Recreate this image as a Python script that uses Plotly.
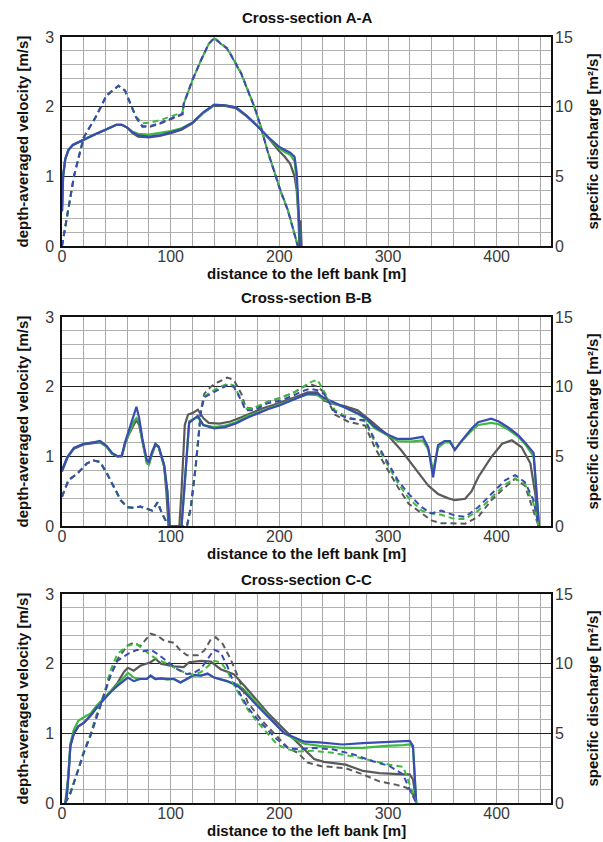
import plotly.graph_objects as go

# ---------------- DATA ----------------
# Panel A (Cross-section A-A): velocity [m/s] (solid) and specific discharge [m2/s] (dashed)
a_v_x = [0, 1, 3, 6, 10, 20, 30, 40, 50, 55, 60, 65, 70, 80, 90, 100, 110, 120, 130, 140, 150, 160, 170, 180, 190, 200, 205, 210, 214, 216, 217.5, 219]
a_v_blue = [0.5, 1.0, 1.25, 1.38, 1.45, 1.53, 1.6, 1.67, 1.74, 1.74, 1.70, 1.63, 1.59, 1.57, 1.59, 1.63, 1.68, 1.77, 1.92, 2.03, 2.02, 1.99, 1.87, 1.72, 1.56, 1.42, 1.38, 1.34, 1.28, 1.05, 0.6, 0]
a_v_green = [0.5, 1.0, 1.25, 1.38, 1.45, 1.53, 1.6, 1.67, 1.74, 1.74, 1.70, 1.64, 1.61, 1.60, 1.62, 1.65, 1.69, 1.77, 1.91, 2.02, 2.02, 1.99, 1.87, 1.72, 1.55, 1.40, 1.35, 1.31, 1.22, 0.9, 0.5, 0]
a_v_gray_x = [0, 1, 3, 6, 10, 20, 30, 40, 50, 55, 60, 65, 70, 80, 90, 100, 110, 120, 130, 140, 150, 160, 170, 180, 190, 200, 205, 210, 214, 216, 217.5, 218.5, 219.5, 220.5]
a_v_gray = [0.5, 1.0, 1.25, 1.38, 1.45, 1.53, 1.6, 1.67, 1.74, 1.74, 1.70, 1.62, 1.57, 1.56, 1.58, 1.62, 1.67, 1.76, 1.91, 2.02, 2.01, 1.98, 1.86, 1.72, 1.55, 1.36, 1.28, 1.18, 1.0, 0.8, 0.45, 0.0, 0.37, 0]

a_q_x = [0, 2, 5, 11, 20, 31, 41, 52, 58, 63, 68, 74, 81, 91, 103, 111, 112, 120, 128, 135, 140, 146, 152, 158, 165, 171, 177, 183, 189, 195, 201, 208, 212, 215, 217]
a_q_blue = [0, 0.9, 2.3, 5.0, 7.8, 9.25, 10.8, 11.5, 11.15, 10.2, 9.25, 8.6, 8.6, 8.85, 9.25, 9.5, 10.2, 11.9, 13.35, 14.5, 14.9, 14.5, 14.15, 13.35, 12.35, 11.15, 10.0, 8.55, 6.85, 5.45, 4.0, 2.55, 1.35, 0.4, 0]
a_q_green = [0, 0.9, 2.3, 5.0, 7.8, 9.25, 10.8, 11.5, 11.15, 10.2, 9.3, 8.8, 8.85, 9.05, 9.4, 9.6, 10.2, 11.9, 13.35, 14.5, 14.9, 14.5, 14.15, 13.35, 12.35, 11.15, 10.0, 8.55, 6.85, 5.45, 4.0, 2.55, 1.35, 0.4, 0]
a_q_gray = [0, 0.9, 2.3, 5.0, 7.8, 9.25, 10.8, 11.5, 11.15, 10.2, 9.25, 8.55, 8.55, 8.8, 9.2, 9.45, 10.2, 11.9, 13.35, 14.5, 14.95, 14.6, 14.2, 13.4, 12.4, 11.2, 10.0, 8.55, 6.85, 5.4, 3.95, 2.5, 1.3, 0.4, 0]

# Panel B (Cross-section B-B)
b_v_x = [0, 5, 11, 20, 29, 35, 41, 46, 51, 55, 58, 61, 66, 68.5, 71, 74, 78, 80, 83, 86, 89, 94, 97, 99, 110, 113, 117, 120, 125, 130, 140, 150, 160, 170, 180, 190, 200, 210, 220, 226, 235, 241, 251, 260, 272, 280, 288, 300, 309, 321, 332, 337, 341.5, 346, 352, 357, 361.5, 368, 377, 383, 390, 395, 402, 411, 420, 426, 434, 437, 439]
b_v_blue = [0.8, 0.99, 1.12, 1.18, 1.2, 1.22, 1.15, 1.05, 1.0, 1.01, 1.2, 1.35, 1.62, 1.71, 1.55, 1.25, 0.95, 0.92, 1.07, 1.18, 1.14, 0.88, 0.5, 0, 0, 0.6, 1.48, 1.52, 1.58, 1.45, 1.4, 1.42, 1.47, 1.55, 1.62, 1.68, 1.73, 1.79, 1.86, 1.90, 1.90, 1.84, 1.77, 1.71, 1.62, 1.55, 1.42, 1.31, 1.25, 1.25, 1.28, 1.13, 0.7, 1.16, 1.22, 1.22, 1.09, 1.23, 1.4, 1.49, 1.52, 1.54, 1.5, 1.41, 1.3, 1.2, 1.05, 0.45, 0]
b_v_green = [0.8, 0.99, 1.12, 1.18, 1.2, 1.21, 1.14, 1.04, 1.0, 1.0, 1.18, 1.3, 1.5, 1.55, 1.5, 1.22, 0.9, 0.88, 1.05, 1.17, 1.13, 0.86, 0.48, 0, 0, 0.6, 1.5, 1.53, 1.56, 1.45, 1.42, 1.44, 1.49, 1.57, 1.63, 1.69, 1.74, 1.8, 1.86, 1.89, 1.88, 1.82, 1.76, 1.70, 1.61, 1.53, 1.40, 1.29, 1.22, 1.21, 1.23, 1.1, 0.8, 1.12, 1.2, 1.2, 1.1, 1.22, 1.37, 1.45, 1.47, 1.48, 1.46, 1.38, 1.28, 1.18, 1.0, 0.4, 0]
b_v_gray_x = [0, 5, 11, 20, 29, 35, 41, 46, 51, 55, 58, 61, 66, 68.5, 71, 74, 78, 80, 83, 86, 89, 94, 96, 98, 108, 110, 113, 116, 120, 125, 130, 135, 145, 155, 165, 175, 185, 195, 205, 215, 226, 235, 241, 251, 260, 272, 285, 300, 312, 325, 337, 346, 355, 361.5, 371, 377, 383, 395, 405, 414, 423, 431, 435.5, 438.5]
b_v_gray = [0.78, 0.98, 1.11, 1.17, 1.19, 1.2, 1.14, 1.04, 1.0, 1.0, 1.18, 1.3, 1.45, 1.52, 1.45, 1.2, 0.92, 0.9, 1.05, 1.17, 1.13, 0.85, 0.5, 0, 0, 0.5, 1.45, 1.6, 1.62, 1.67, 1.55, 1.48, 1.47, 1.5, 1.56, 1.63, 1.69, 1.74, 1.79, 1.85, 1.92, 1.92, 1.8, 1.75, 1.72, 1.66, 1.5, 1.3, 1.09, 0.82, 0.58, 0.46, 0.4, 0.37, 0.39, 0.5, 0.7, 0.99, 1.18, 1.23, 1.13, 0.9, 0.46, 0]

b_q_x = [0, 6, 14, 23, 29, 35, 41.5, 48, 54, 60, 66, 72, 78, 83, 88, 92, 97, 100, 115, 118.5, 123, 126, 128, 131, 137, 143, 152, 158, 165, 169, 177, 189, 201, 214, 220, 228, 235, 241, 251, 263, 279, 288, 300, 309, 319, 331, 340, 349, 361.5, 371, 383, 395, 408, 417, 426, 434, 438.5]
b_q_blue = [2.1, 3.3, 3.75, 4.5, 4.7, 4.6, 3.75, 2.8, 1.85, 1.35, 1.3, 1.4, 1.25, 1.1, 1.7, 0.9, 0.15, 0, 0, 1.35, 4.25, 6.85, 8.3, 9.25, 9.5, 9.75, 10.1, 10.0, 9.0, 8.3, 8.3, 8.8, 9.0, 9.4, 9.65, 9.85, 9.75, 9.5, 8.2, 7.7, 7.6, 6.15, 4.5, 3.3, 2.3, 1.35, 0.9, 1.1, 0.75, 0.65, 1.35, 2.3, 3.3, 3.65, 3.15, 1.85, 0]
b_q_green = [2.1, 3.3, 3.75, 4.5, 4.7, 4.6, 3.75, 2.8, 1.85, 1.35, 1.3, 1.4, 1.25, 1.1, 1.7, 0.9, 0.15, 0, 0, 1.3, 4.2, 6.8, 8.3, 9.3, 9.6, 9.9, 10.2, 10.1, 9.1, 8.4, 8.5, 8.9, 9.2, 9.6, 9.9, 10.3, 10.5, 9.7, 8.3, 7.8, 7.5, 6.0, 4.3, 3.1, 2.0, 1.1, 0.9, 0.8, 0.5, 0.5, 1.1, 2.0, 3.0, 3.4, 3.0, 1.6, 0]
b_q_gray = [2.1, 3.3, 3.75, 4.5, 4.7, 4.6, 3.75, 2.8, 1.85, 1.35, 1.3, 1.4, 1.25, 1.1, 1.7, 0.9, 0.15, 0, 0, 1.3, 4.3, 6.9, 8.4, 9.5, 10.0, 10.3, 10.65, 10.5, 9.5, 8.5, 8.4, 8.9, 9.2, 9.6, 9.9, 10.2, 10.0, 9.6, 8.0, 7.5, 7.2, 5.6, 4.0, 2.8, 1.6, 0.9, 0.4, 0.2, 0.17, 0.17, 0.65, 1.85, 2.8, 3.4, 2.9, 1.1, 0]

# Panel C (Cross-section C-C)
c_v_x = [3, 4.5, 6, 7.7, 10.8, 15, 20, 26, 32, 38.5, 44.6, 51, 57, 60.6, 66, 72, 78, 81.5, 86, 91, 97, 103, 109, 115, 121.5, 128, 134, 140, 152, 161.5, 168, 177, 186, 195, 204.6, 214, 223, 237, 258, 277, 298.5, 314, 320, 323, 324.6, 326]
c_v_blue = [0, 0.1, 0.4, 0.82, 0.99, 1.1, 1.15, 1.25, 1.37, 1.49, 1.59, 1.68, 1.75, 1.8, 1.75, 1.78, 1.78, 1.83, 1.78, 1.79, 1.78, 1.78, 1.73, 1.78, 1.84, 1.83, 1.86, 1.8, 1.75, 1.68, 1.59, 1.44, 1.3, 1.15, 1.0, 0.94, 0.88, 0.87, 0.84, 0.86, 0.87, 0.88, 0.89, 0.82, 0.34, 0]
c_v_green = [0, 0.1, 0.45, 0.85, 1.05, 1.18, 1.23, 1.28, 1.4, 1.5, 1.6, 1.7, 1.8, 1.87, 1.8, 1.78, 1.78, 1.82, 1.78, 1.79, 1.77, 1.78, 1.73, 1.78, 1.83, 1.83, 1.85, 1.8, 1.75, 1.7, 1.62, 1.47, 1.32, 1.16, 1.0, 0.92, 0.85, 0.82, 0.79, 0.79, 0.82, 0.83, 0.84, 0.8, 0.3, 0]
c_v_gray_x = [3, 6, 7.7, 10.8, 15, 20, 26, 32, 38.5, 44.6, 51, 57, 60.6, 66, 72, 81.5, 86, 91, 103, 112, 117, 128, 137, 146, 158, 168, 177, 189, 201.5, 214, 223, 232, 241, 261, 277, 292, 314, 320, 323, 326]
c_v_gray = [0, 0.4, 0.82, 0.99, 1.1, 1.15, 1.25, 1.37, 1.5, 1.6, 1.72, 1.88, 1.94, 1.9, 1.97, 2.02, 2.07, 2.0, 1.96, 1.95, 2.02, 2.04, 2.03, 1.92, 1.85, 1.68, 1.51, 1.3, 1.1, 0.91, 0.77, 0.63, 0.59, 0.55, 0.46, 0.43, 0.41, 0.41, 0.34, 0]

c_q_x = [3, 7.7, 14, 20, 26, 32, 38.5, 44.6, 51, 60.6, 69, 75, 81.5, 88, 97, 106, 115, 121.5, 128, 134, 140, 146, 152, 158, 164.6, 171, 180, 189, 198, 208, 217, 231, 249, 267.7, 286, 301.5, 314, 318.5, 323, 326]
c_q_blue = [0, 0.7, 2.15, 3.6, 4.8, 6.25, 7.7, 9.15, 10.2, 10.7, 11.0, 10.9, 11.0, 10.7, 10.15, 9.6, 9.25, 9.35, 9.65, 10.35, 11.0, 10.8, 9.85, 8.65, 7.7, 6.85, 6.0, 5.3, 4.55, 3.95, 3.85, 3.95, 3.85, 3.5, 3.0, 2.65, 2.05, 1.2, 0.5, 0]
c_q_green = [0, 0.75, 2.2, 3.7, 4.9, 6.4, 7.8, 9.5, 10.7, 11.3, 11.4, 11.0, 10.6, 10.3, 10.0, 9.6, 9.3, 9.2, 9.4, 9.8, 10.2, 10.1, 9.5, 8.5, 7.6, 6.7, 5.8, 5.0, 4.2, 3.85, 3.7, 3.75, 3.6, 3.35, 3.0, 2.75, 2.6, 1.7, 0.7, 0]
c_q_gray_x = [3, 7.7, 14, 20, 26, 32, 38.5, 44.6, 51, 60, 66, 72, 81.5, 88, 94, 103, 109, 115, 125, 131, 137, 141.5, 148, 155, 161.5, 171, 183, 195, 208, 217, 226, 238, 261, 277, 292, 308, 317, 323, 326]
c_q_gray = [0, 0.7, 2.15, 3.6, 4.8, 6.25, 7.7, 9.15, 10.3, 11.3, 11.5, 11.25, 12.15, 12.0, 11.65, 11.5, 10.95, 10.6, 10.6, 10.95, 11.75, 11.9, 11.4, 10.35, 9.15, 7.2, 6.0, 5.0, 3.95, 3.6, 2.9, 2.65, 2.5, 2.05, 1.55, 1.3, 1.1, 0.6, 0]

panel_titles = ["Cross-section A-A", "Cross-section B-B", "Cross-section C-C"]
x_title = "distance to the left bank [m]"
y_left_title = "depth-averaged velocity [m/s]"
y_right_title = "specific discharge [m²/s]"

# ---------------- STYLE ----------------
GRAY = "#5a5a5a"
GREEN = "#3dba3f"
BLUE = "#3a4cb2"
FONT = "Liberation Sans, Arial, sans-serif"

panels = [
    dict(v=[(a_v_gray_x, a_v_gray, GRAY), (a_v_x, a_v_green, GREEN), (a_v_x, a_v_blue, BLUE)],
         q=[(a_q_x, a_q_gray, GRAY), (a_q_x, a_q_green, GREEN), (a_q_x, a_q_blue, BLUE)]),
    dict(v=[(b_v_gray_x, b_v_gray, GRAY), (b_v_x, b_v_green, GREEN), (b_v_x, b_v_blue, BLUE)],
         q=[(b_q_x, b_q_gray, GRAY), (b_q_x, b_q_green, GREEN), (b_q_x, b_q_blue, BLUE)]),
    dict(v=[(c_v_gray_x, c_v_gray, GRAY), (c_v_x, c_v_green, GREEN), (c_v_x, c_v_blue, BLUE)],
         q=[(c_q_gray_x, c_q_gray, GRAY), (c_q_x, c_q_green, GREEN), (c_q_x, c_q_blue, BLUE)]),
]

W, H = 603, 842
ML, MT = 62, 37
PLOT_RIGHT, PLOT_BOTTOM = 551, 803
MR, MB = W - PLOT_RIGHT, H - PLOT_BOTTOM
PH = H - MT - MB
# pixel rows (top, bottom) of each panel's plot area
panel_px = [(37, 246), (317, 526), (594, 803)]

fig = go.Figure()
layout = dict(
    width=W, height=H, paper_bgcolor="white", plot_bgcolor="white",
    margin=dict(l=ML, r=MR, t=MT, b=MB, autoexpand=False), showlegend=False,
    font=dict(family=FONT, color="#222"),
)
annotations = []
tickfont = dict(size=16, color="#3a3a3a", family=FONT)
boldfont = dict(family=FONT, size=15, color="#111")

for i, p in enumerate(panels):
    n = i + 1
    xa = "x" if n == 1 else f"x{n}"
    yl = f"y{2*n-1}" if n > 1 else "y"
    yr = f"y{2*n}"
    for (xs, ys, col) in p["q"]:
        fig.add_trace(go.Scatter(x=xs, y=ys, mode="lines", xaxis=xa, yaxis=yr,
                                 line=dict(color=col, width=2, dash="6px,4px"),
                                 hoverinfo="skip"))
    for (xs, ys, col) in p["v"]:
        fig.add_trace(go.Scatter(x=xs, y=ys, mode="lines", xaxis=xa, yaxis=yl,
                                 line=dict(color=col, width=2.2), hoverinfo="skip"))

    top, bot = panel_px[i]
    d0 = (H - MB - bot) / PH
    d1 = (H - MB - top) / PH
    xkey = "xaxis" if n == 1 else f"xaxis{n}"
    ylkey = "yaxis" if n == 1 else f"yaxis{2*n-1}"
    yrkey = f"yaxis{2*n}"
    layout[xkey] = dict(
        domain=[0, 1], range=[0, 450], anchor=yl, dtick=100, tick0=0,
        showgrid=True, gridcolor="#a9a9a9", gridwidth=1,
        minor=dict(dtick=20, tick0=0, showgrid=True, gridcolor="#a9a9a9", gridwidth=1),
        showline=True, linecolor="#111", linewidth=1.5, mirror=True, zeroline=False,
        ticks="", tickfont=tickfont, ticklabelstandoff=-5,
        fixedrange=True,
    )
    layout[ylkey] = dict(
        domain=[d0, d1], range=[0, 3], anchor=xa, dtick=1, tick0=0,
        showgrid=True, gridcolor="#222", gridwidth=1,
        minor=dict(dtick=0.2, tick0=0, showgrid=True, gridcolor="#b0b0b0", gridwidth=1),
        showline=True, linecolor="#111", linewidth=1.5, mirror=True, zeroline=False,
        ticks="", tickfont=tickfont, ticklabelstandoff=3,
        fixedrange=True,
    )
    layout[yrkey] = dict(
        domain=[d0, d1], range=[0, 15], anchor=xa, overlaying=yl, side="right",
        dtick=5, tick0=0, showgrid=False, zeroline=False, showline=False,
        ticks="", tickfont=tickfont, ticklabelstandoff=3,
        fixedrange=True,
    )
    annotations.append(dict(text=f"<b>{panel_titles[i]}</b>", xref="paper", yref="paper",
                            x=0.5, y=d1, xanchor="center", yanchor="middle",
                            yshift=(20 if n < 3 else 15), showarrow=False, font=boldfont))
    annotations.append(dict(text=f"<b>{x_title}</b>", xref="paper", yref="paper",
                            x=0.5, y=d0, xanchor="center", yanchor="middle",
                            yshift=-27, showarrow=False, font=boldfont))
    annotations.append(dict(text=f"<b>{y_left_title}</b>", xref="paper", yref="paper",
                            x=0, y=(d0 + d1) / 2, xanchor="center", yanchor="middle",
                            xshift=-40, textangle=-90, showarrow=False, font=boldfont))
    annotations.append(dict(text=f"<b>{y_right_title}</b>", xref="paper", yref="paper",
                            x=1, y=(d0 + d1) / 2, xanchor="center", yanchor="middle",
                            xshift=41, textangle=-90, showarrow=False, font=boldfont))

layout["annotations"] = annotations
fig.update_layout(**layout)
# remove the browser's default 8px body margin so the 603x842 figure fits the window exactly
fig.write_html("out.html", config={"displayModeBar": False},
               post_script="document.body.style.margin='0px';document.body.style.overflow='hidden';")
